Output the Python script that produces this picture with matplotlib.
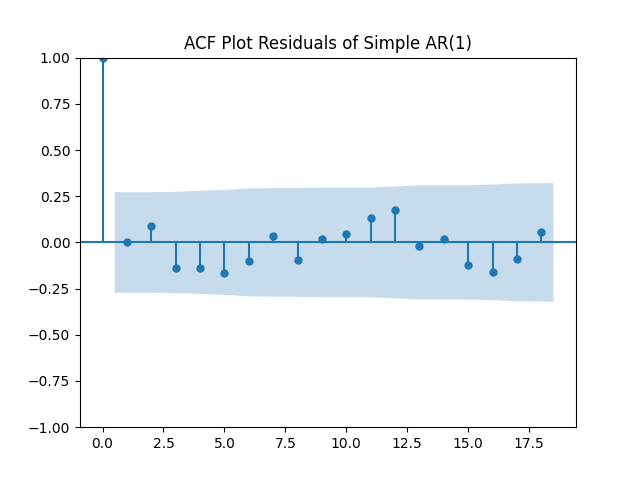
import numpy as np
import matplotlib
matplotlib.use("Agg")
import matplotlib.pyplot as plt

# --- Data ---
lags = list(range(19))
acf_vals = [1.0, 0.001, 0.089, -0.140, -0.140, -0.167, -0.102, 0.034, -0.097,
            0.017, 0.046, 0.131, 0.175, -0.021, 0.017, -0.124, -0.162, -0.091, 0.055]
# 95% confidence half-width for lags 1..18
conf = [0.272, 0.272, 0.274, 0.279, 0.284, 0.292, 0.294, 0.294, 0.297,
        0.297, 0.297, 0.302, 0.309, 0.309, 0.309, 0.313, 0.319, 0.321]
title = "ACF Plot Residuals of Simple AR(1)"

fig, ax = plt.subplots(figsize=(6.4, 4.8), dpi=100)

ax.vlines(lags, [0], acf_vals, color="C0")
ax.axhline(0, color="C0")
ax.plot(lags, acf_vals, marker="o", markersize=5, linestyle="None", color="C0")

# shaded confidence band, stretched half a lag at each end
band_x = np.array(lags[1:], dtype=float)
band_x[0] -= 0.5
band_x[-1] += 0.5
conf = np.array(conf)
ax.fill_between(band_x, -conf, conf, alpha=0.25, linewidth=0)

ax.margins(0.05)
ax.set_ylim(-1, 1)
ax.set_title(title)

fig.savefig("out.png")
